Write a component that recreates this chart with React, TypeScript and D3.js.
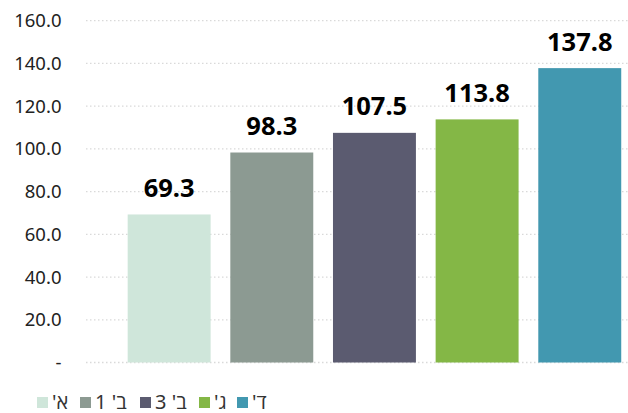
import React from "react";
import * as d3 from "d3";

const categories = ["א'", "ב' 1", "ב' 3", "ג'", "ד'"];
const values = [69.3, 98.3, 107.5, 113.8, 137.8];
const colors = ["#cfe6da", "#8c9a92", "#5b5b70", "#84b746", "#4298b0"];
const yTicks = [0, 20, 40, 60, 80, 100, 120, 140, 160];

const sizing = { width: 628, height: 413 };
const font = "'Noto Sans', 'Open Sans', sans-serif";

// right-to-left embedding for the Hebrew legend labels
const RLE = "\u202B";
const PDF = "\u202C";

function App() {
  const x = d3
    .scaleBand<number>()
    .domain(d3.range(categories.length))
    .range([117.4, 631.5])
    .paddingInner(0.192)
    .paddingOuter(0.1);

  const y = d3.scaleLinear().domain([0, 160]).range([362.5, 20.7]);

  const grid = yTicks.map((t) => (
    <g key={`tick${t}`}>
      <line
        x1={86}
        x2={628}
        y1={y(t)}
        y2={y(t)}
        stroke="#d9d9d9"
        strokeWidth={1.3}
        strokeDasharray="1.5,2.5"
      />
      <text
        x={61.5}
        y={y(t)}
        dy="0.35em"
        textAnchor="end"
        style={{ fontFamily: font, fontSize: "18.5px", fill: "#222" }}
      >
        {t === 0 ? "-" : t.toFixed(1)}
      </text>
    </g>
  ));

  const bars = values.map((d, i) => (
    <rect
      key={`bar${i}`}
      x={x(i)}
      y={y(d)}
      width={x.bandwidth()}
      height={y(0) - y(d)}
      fill={colors[i]}
    />
  ));

  const labels = values.map((d, i) => (
    <text
      key={`lbl${i}`}
      x={(x(i) as number) + x.bandwidth() / 2}
      y={y(d) - 17.5}
      textAnchor="middle"
      style={{ fontFamily: font, fontSize: "25.5px", fontWeight: 700, fill: "#000" }}
    >
      {d.toFixed(1)}
    </text>
  ));

  // legend, left to right
  const legendX = [37, 80, 140, 199, 237];
  const legend = categories.map((c, i) => (
    <g key={`leg${i}`} transform={`translate(${legendX[i]},397)`}>
      <rect width={11} height={11} fill={colors[i]} />
      <text
        x={15}
        y={12}
        style={{ fontFamily: font, fontSize: "20px", fill: "#333" }}
      >
        {RLE + c + PDF}
      </text>
    </g>
  ));

  return (
    <svg
      width={sizing.width}
      height={sizing.height}
      style={{ position: "absolute", left: 0, top: 0 }}
    >
      <rect width={sizing.width} height={sizing.height} fill="white" />
      {grid}
      {bars}
      {labels}
      {legend}
    </svg>
  );
}

export default App;
